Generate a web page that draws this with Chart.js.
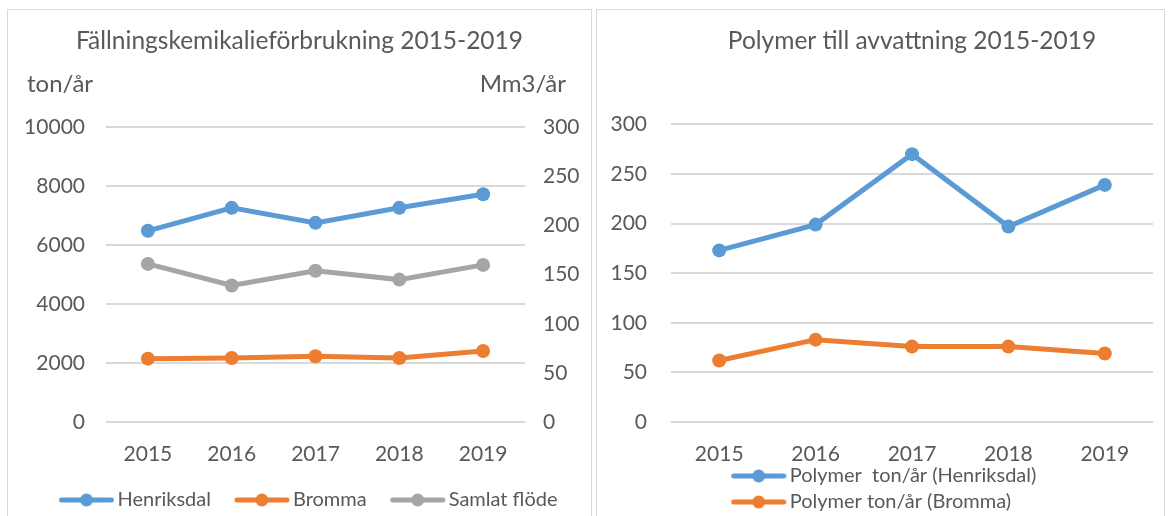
<!DOCTYPE html>
<html>
<head>
<meta charset="utf-8">
<script src="https://cdn.jsdelivr.net/npm/chart.js@4/dist/chart.umd.min.js"></script>
<style>
  body { margin: 0; background: #fff; font-family: Lato, sans-serif; overflow: hidden; }
  .panel { position: absolute; top: 9px; height: 520px; border: 1px solid #d9d9d9; }
  .box { position: absolute; top: 10px; }
  .unit { position: absolute; top: 71px; font: 24px/24px Lato, sans-serif; color: #595959; }
</style>
</head>
<body>
<div class="panel" style="left:7px;width:583px"></div>
<div class="panel" style="left:596px;width:567px"></div>
<div class="box" style="left:8px;width:583px;height:510px"><canvas id="chemChart"></canvas></div>
<div class="box" style="left:597px;width:567px;height:512px"><canvas id="polyChart"></canvas></div>
<div class="unit" style="left:27px">ton/år</div>
<div class="unit" style="right:604px">Mm3/år</div>
<script>
const years = ['2015', '2016', '2017', '2018', '2019'];
const henriksdal = [6490, 7270, 6760, 7270, 7730];      // ton/år
const bromma = [2150, 2170, 2230, 2170, 2410];          // ton/år
const samlatFlode = [161, 139, 154, 145, 160];          // Mm3/år
const polymerHenriksdal = [173, 199, 270, 197, 239];
const polymerBromma = [62, 83, 76, 76, 69];

const BLUE = '#5B9BD5', ORANGE = '#ED7D31', GREY = '#A5A5A5';
const TXT = '#595959', GRID = '#D9D9D9';

// line + marker swatch for the legend (blank strip on the left = gap to previous item)
function swatch(color) {
  const c = document.createElement('canvas');
  c.width = 80; c.height = 14;
  const g = c.getContext('2d');
  g.strokeStyle = color; g.lineWidth = 5; g.lineCap = 'round';
  g.beginPath(); g.moveTo(27, 7); g.lineTo(77, 7); g.stroke();
  g.fillStyle = color;
  g.beginPath(); g.arc(52, 7, 6.5, 0, Math.PI * 2); g.fill();
  return c;
}

function series(label, data, color, axis) {
  return {
    label, data, yAxisID: axis,
    borderColor: color, backgroundColor: color,
    borderWidth: 5, pointRadius: 7, pointHoverRadius: 8,
    pointBackgroundColor: color, pointBorderWidth: 0,
    tension: 0, fill: false,
    legendSwatch: swatch(color)
  };
}

const legendOpts = {
  position: 'bottom',
  labels: {
    color: TXT, font: { size: 20, family: 'Lato' }, padding: 6,
    usePointStyle: true, pointStyleWidth: 66,
    generateLabels(chart) {
      return chart.data.datasets.map((ds, i) => ({
        text: ds.label, fontColor: TXT, pointStyle: ds.legendSwatch,
        hidden: false, datasetIndex: i, lineWidth: 0
      }));
    }
  }
};

const tickFont = { size: 21, family: 'Lato' };
const titleFont = { size: 24.5, family: 'Lato', weight: 'normal' };

// make wrapped legend rows start at the same x
const alignLegendRows = {
  id: 'alignLegendRows',
  beforeDraw(chart) {
    const lw = chart.legend && chart.legend.lineWidths;
    if (lw && lw.length > 1) lw.fill(Math.max(...lw));
  }
};

new Chart(document.getElementById('chemChart'), {
  type: 'line',
  data: {
    labels: years,
    datasets: [
      series('Henriksdal', henriksdal, BLUE, 'y'),
      series('Bromma', bromma, ORANGE, 'y'),
      series('Samlat flöde', samlatFlode, GREY, 'y1')
    ]
  },
  options: {
    responsive: true, maintainAspectRatio: false, animation: false,
    layout: { padding: 0 },
    plugins: {
      title: {
        display: true, text: 'Fällningskemikalieförbrukning 2015-2019',
        color: TXT, font: titleFont,
        padding: { top: 16, bottom: 72 }
      },
      legend: legendOpts,
      tooltip: { enabled: false }
    },
    scales: {
      x: {
        offset: true,
        grid: { display: false, drawTicks: false },
        border: { display: false },
        ticks: { color: TXT, font: tickFont, padding: 20 },
        afterFit: s => { s.height = 62; }
      },
      y: {
        position: 'left', min: 0, max: 10000,
        grid: { color: GRID, lineWidth: 2, drawTicks: false },
        border: { display: false },
        ticks: { stepSize: 2000, color: TXT, font: tickFont, padding: 21, callback: v => v },
        afterFit: s => { s.width = 98; }
      },
      y1: {
        position: 'right', min: 0, max: 300,
        grid: { drawOnChartArea: false, drawTicks: false },
        border: { display: false },
        ticks: { stepSize: 50, color: TXT, font: tickFont, padding: 18 },
        afterFit: s => { s.width = 66; }
      }
    }
  }
});

new Chart(document.getElementById('polyChart'), {
  type: 'line',
  data: {
    labels: years,
    datasets: [
      series('Polymer  ton/år (Henriksdal)', polymerHenriksdal, BLUE, 'y'),
      series('Polymer ton/år (Bromma)', polymerBromma, ORANGE, 'y')
    ]
  },
  options: {
    responsive: true, maintainAspectRatio: false, animation: false,
    layout: { padding: { right: 11 } },
    plugins: {
      title: {
        display: true, text: 'Polymer till avvattning 2015-2019',
        color: TXT, font: titleFont, fullSize: false,
        padding: { top: 16, bottom: 69 }
      },
      legend: legendOpts,
      tooltip: { enabled: false }
    },
    scales: {
      x: {
        offset: true,
        grid: { display: false, drawTicks: false },
        border: { display: false },
        ticks: { color: TXT, font: tickFont, padding: 20 },
        afterFit: s => {
          s.height = 38;
          s._computeLabelArea = () => undefined; // labels overlap the legend band
        }
      },
      y: {
        min: 0, max: 300,
        grid: { color: GRID, lineWidth: 2, drawTicks: false },
        border: { display: false },
        ticks: { stepSize: 50, color: TXT, font: tickFont, padding: 24 },
        afterFit: s => { s.width = 74; }
      }
    }
  },
  plugins: [alignLegendRows]
});
</script>
</body>
</html>
